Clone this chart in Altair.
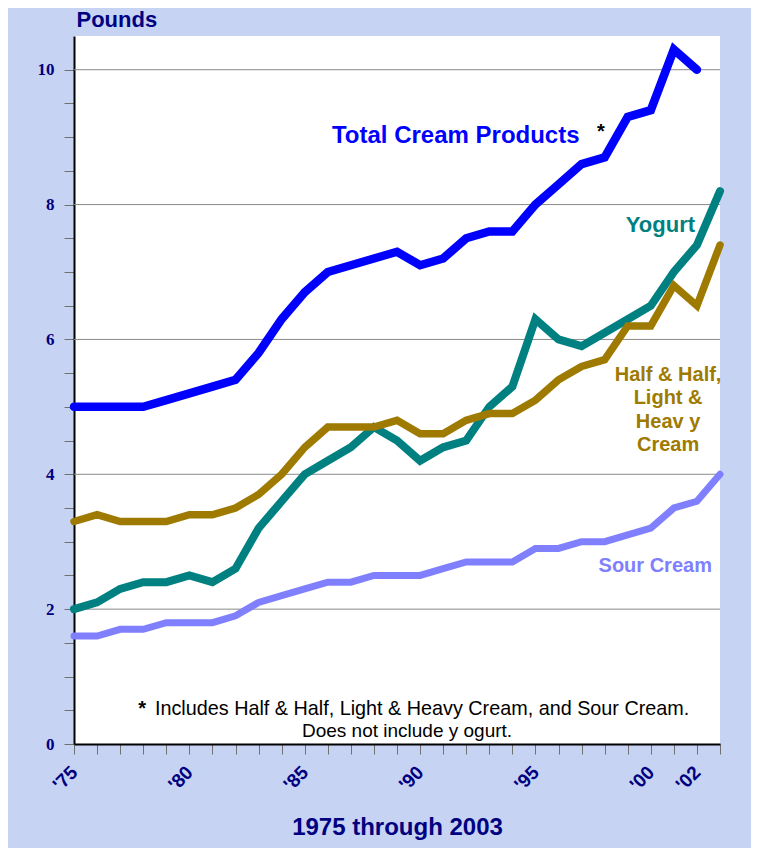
import altair as alt
import pandas as pd

# ---- data (pounds per capita) ----
years = list(range(1975, 2004))
total_cream = [5.0, 5.0, 5.0, 5.0, 5.1, 5.2, 5.3, 5.4, 5.8, 6.3, 6.7, 7.0, 7.1, 7.2,
               7.3, 7.1, 7.2, 7.5, 7.6, 7.6, 8.0, 8.3, 8.6, 8.7, 9.3, 9.4, 10.3, 10.0]
yogurt = [2.0, 2.1, 2.3, 2.4, 2.4, 2.5, 2.4, 2.6, 3.2, 3.6, 4.0, 4.2, 4.4, 4.7, 4.5,
          4.2, 4.4, 4.5, 5.0, 5.3, 6.3, 6.0, 5.9, 6.1, 6.3, 6.5, 7.0, 7.4, 8.2]
half_half = [3.3, 3.4, 3.3, 3.3, 3.3, 3.4, 3.4, 3.5, 3.7, 4.0, 4.4, 4.7, 4.7, 4.7, 4.8,
             4.6, 4.6, 4.8, 4.9, 4.9, 5.1, 5.4, 5.6, 5.7, 6.2, 6.2, 6.8, 6.5, 7.4]
sour_cream = [1.6, 1.6, 1.7, 1.7, 1.8, 1.8, 1.8, 1.9, 2.1, 2.2, 2.3, 2.4, 2.4, 2.5, 2.5,
              2.5, 2.6, 2.7, 2.7, 2.7, 2.9, 2.9, 3.0, 3.0, 3.1, 3.2, 3.5, 3.6, 4.0]

grid_values = [2, 4, 6, 8, 10]
y_tick_values = [i * 0.5 for i in range(0, 21)]
x_label_years = [1975, 1980, 1985, 1990, 1995, 2000, 2002]
x_label_texts = ["'75", "'80", "'85", "'90", "'95", "'00", "'02"]

rows = []
for name, vals in [("Total", total_cream), ("Yogurt", yogurt),
                   ("Half", half_half), ("Sour", sour_cream)]:
    for yr, v in zip(years, vals):
        rows.append({"series": name, "year": yr, "value": v})
df = pd.DataFrame(rows)

NAVY = "#000080"
SANS = "Liberation Sans"
SERIF = "Liberation Serif"

x_expr = " : ".join(f'datum.value == {y} ? "{t}"' for y, t in zip(x_label_years, x_label_texts)) + ' : ""'

x_scale = alt.Scale(domain=[1975, 2003], nice=False, zero=False)
y_scale = alt.Scale(domain=[0, 10.5], nice=False)

x_axis = alt.Axis(
    values=years, labelExpr=x_expr, labelAngle=-45, labelAlign="right",
    labelBaseline="middle", labelFont=SANS, labelFontWeight="bold", labelFontSize=19,
    labelColor=NAVY, labelPadding=15, labelOverlap=False, labelFlush=False,
    tickSize=10, tickColor="#707070", tickWidth=1,
    domainColor="black", domainWidth=2, grid=False,
    title="1975 through 2003", titleFont=SANS, titleFontSize=24, titleFontWeight="bold",
    titleColor=NAVY, titleX=323, titleY=90, titleAlign="center", titleBaseline="alphabetic",
)
y_axis = alt.Axis(
    values=y_tick_values, labelExpr="datum.value % 2 === 0 ? format(datum.value, 'd') : ''",
    labelFont=SERIF, labelFontWeight="bold", labelFontSize=17, labelColor=NAVY,
    labelPadding=10, labelOverlap=False, labelFlush=False,
    tickSize=10, tickColor="#707070", tickWidth=1,
    domainColor="black", domainWidth=2, grid=False,
    title="Pounds", titleAngle=0, titleAlign="left", titleBaseline="alphabetic",
    titleX=2, titleY=-10, titleFont=SANS, titleFontSize=22, titleFontWeight="bold",
    titleColor=NAVY,
)

X = alt.X("year:Q", scale=x_scale, axis=x_axis)
Y = alt.Y("value:Q", scale=y_scale, axis=y_axis)

grid = alt.Chart(pd.DataFrame({"value": grid_values})).mark_rule(
    color="#8a8a8a", strokeWidth=1).encode(y=Y)


def series_line(name, color, width):
    return alt.Chart(df).transform_filter(alt.datum.series == name).mark_line(
        color=color, strokeWidth=width, strokeCap="round", strokeJoin="miter"
    ).encode(x=X, y=Y)


lines = [
    series_line("Sour", "#8080FF", 7),
    series_line("Yogurt", "#008080", 8),
    series_line("Half", "#9E7A00", 7.5),
    series_line("Total", "#0000FF", 8.5),
]


def label(text, year, value, color, size, align, weight="bold", line_height=None):
    kw = dict(align=align, baseline="alphabetic", font=SANS, fontSize=size,
              fontWeight=weight, color=color)
    if line_height is not None:
        kw["lineBreak"] = "\n"
        kw["lineHeight"] = line_height
    return alt.Chart(pd.DataFrame({"year": [year], "value": [value], "t": [text]})).mark_text(
        **kw).encode(x=X, y=Y, text="t:N")


labels = [
    label("Total Cream Products", 1986.18, 8.92, "#0000FF", 24, "left"),
    label("*", 1997.84, 8.98, "black", 20, "center"),
    label("Yogurt", 2001.92, 7.60, "#008080", 22, "right"),
    label("Half & Half,\nLight &\nHeav y\nCream", 2000.75, 5.39, "#9E7A00", 20, "center",
          line_height=23.5),
    label("Sour Cream", 2002.65, 2.55, "#8080FF", 20, "right"),
    label("*", 1977.95, 0.43, "black", 20, "center"),
    label("Includes Half  & Half, Light & Heavy Cream, and Sour Cream.", 1978.51, 0.43,
          "black", 19.8, "left", weight="normal"),
    label("Does not include y ogurt.", 1984.88, 0.104, "black", 19, "left", weight="normal"),
]

chart = alt.layer(grid, *lines, *labels).properties(
    width=646, height=708,
    autosize=alt.AutoSizeParams(type="none"),
    padding={"left": 66, "top": 28, "right": 31, "bottom": 104},
    background="#C6D3F3",
).configure_view(fill="white", strokeWidth=0)

chart.save("out.html", embed_options={"renderer": "svg", "actions": False})
